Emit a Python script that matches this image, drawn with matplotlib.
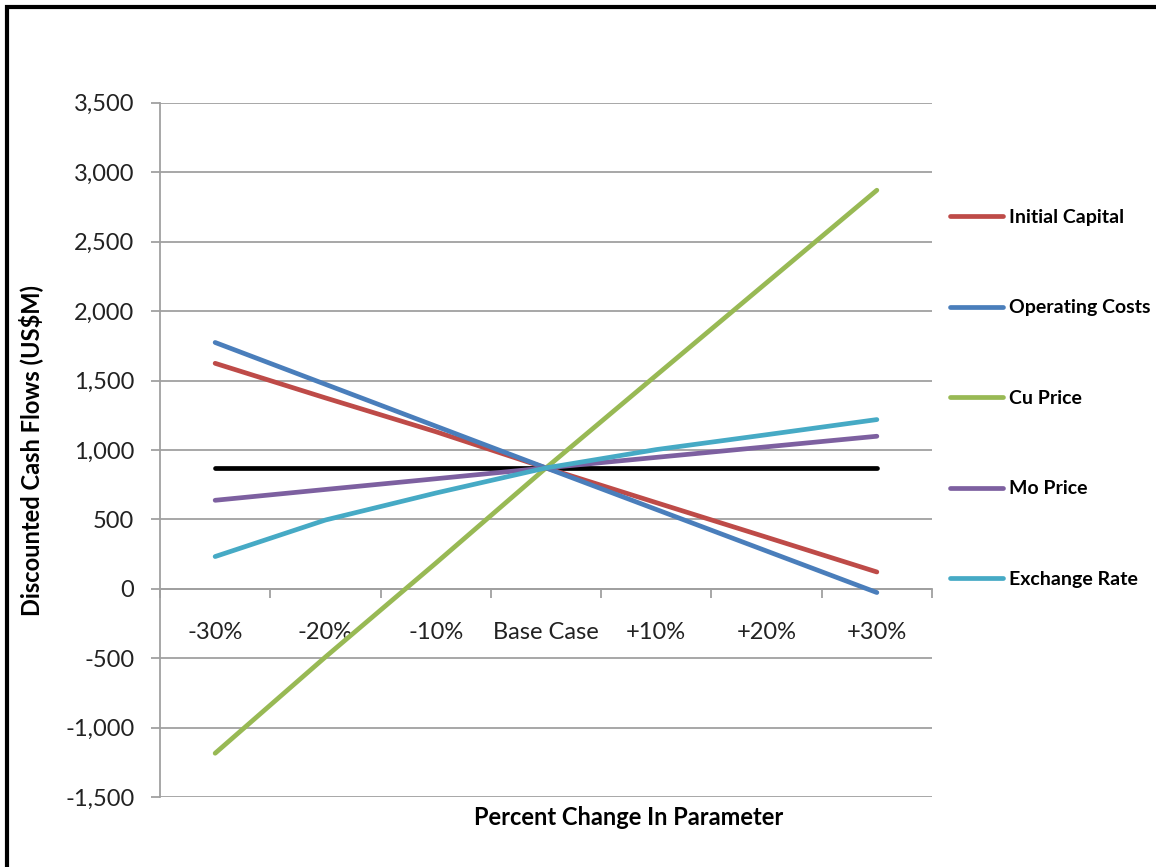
import matplotlib
matplotlib.use('Agg')
import matplotlib.pyplot as plt
from matplotlib.patches import Rectangle
from matplotlib.ticker import FuncFormatter, MultipleLocator

plt.rcParams['font.family'] = ['Lato', 'DejaVu Sans']

categories = ['-30%', '-20%', '-10%', 'Base Case', '+10%', '+20%', '+30%']

initial_capital = [1624, 1375, 1132, 871, 621, 372, 122]
operating_costs = [1774, 1473, 1172, 871, 572, 273, -26]
cu_price = [-1183, -490, 185, 871, 1538, 2204, 2870]
mo_price = [638, 716, 793, 871, 947, 1023, 1099]
exchange_rate = [233, 496, 690, 871, 1003, 1110, 1219]
base_case = [871, 871, 871, 871, 871, 871, 871]

series = [
    ('Initial Capital', initial_capital, '#BE4B48'),
    ('Operating Costs', operating_costs, '#4A7EBB'),
    ('Cu Price', cu_price, '#98B954'),
    ('Mo Price', mo_price, '#7D60A0'),
    ('Exchange Rate', exchange_rate, '#46AAC5'),
]

W, H = 1156, 867
fig = plt.figure(figsize=(W / 100, H / 100), dpi=100)
ax = fig.add_axes([160 / W, 1 - 797.3 / H, 772 / W, 694.6 / H])

x = range(len(categories))
ax.plot(x, base_case, color='black', lw=3.4, solid_capstyle='round', zorder=3)
for name, vals, col in series:
    ax.plot(x, vals, color=col, lw=3.4, solid_capstyle='round', label=name, zorder=4)

ax.set_xlim(-0.5, len(categories) - 0.5)
ax.set_ylim(-1500, 3500)
ax.yaxis.set_major_locator(MultipleLocator(500))
ax.yaxis.set_major_formatter(FuncFormatter(lambda v, p: f'{int(v):,}'))
ax.grid(axis='y', color='#A0A0A0', lw=1.3, zorder=1)

grid_gray = '#A0A0A0'
for s in ['top', 'right']:
    ax.spines[s].set_visible(False)
ax.spines['left'].set_color(grid_gray)
ax.spines['left'].set_linewidth(1.3)
ax.spines['bottom'].set_position(('data', 0))
ax.spines['bottom'].set_color(grid_gray)
ax.spines['bottom'].set_linewidth(1.3)

ax.set_xticks(list(x))
ax.set_xticklabels(categories)
ax.set_xticks([i - 0.5 for i in range(len(categories) + 1)], minor=True)
ax.tick_params(axis='x', which='major', length=0, pad=24, labelsize=17, labelcolor='#222222')
ax.tick_params(axis='x', which='minor', length=6.5, width=1.3, color=grid_gray, direction='out')
ax.tick_params(axis='y', length=6.5, width=1.3, color=grid_gray, pad=12, labelsize=17,
               labelcolor='#222222')

ax.set_ylabel('Discounted Cash Flows (US$M)', fontsize=17, fontweight='bold')
ax.yaxis.set_label_coords((43 - 160) / 772, 0.5)
ax.set_xlabel('Percent Change In Parameter', fontsize=17, fontweight='bold')
ax.xaxis.set_label_coords((629 - 160) / 772, (797.3 - 806) / 694.6)

leg = ax.legend(loc='center left', bbox_to_anchor=(950 / W, 1 - 398.5 / H),
                bbox_transform=fig.transFigure, frameon=False,
                handlelength=2.75, handletextpad=0.28, labelspacing=3.78,
                borderpad=0, borderaxespad=0, prop={'weight': 'bold', 'size': 14})
for line in leg.get_lines():
    line.set_linewidth(3.4)

# frame along the top and left edge
fig.patches.append(Rectangle((7 / W, -0.1), 1.2, 1 - 7 / H + 0.1, transform=fig.transFigure,
                             fill=False, edgecolor='black', lw=3, zorder=10))

fig.savefig('out.png', dpi=100)
